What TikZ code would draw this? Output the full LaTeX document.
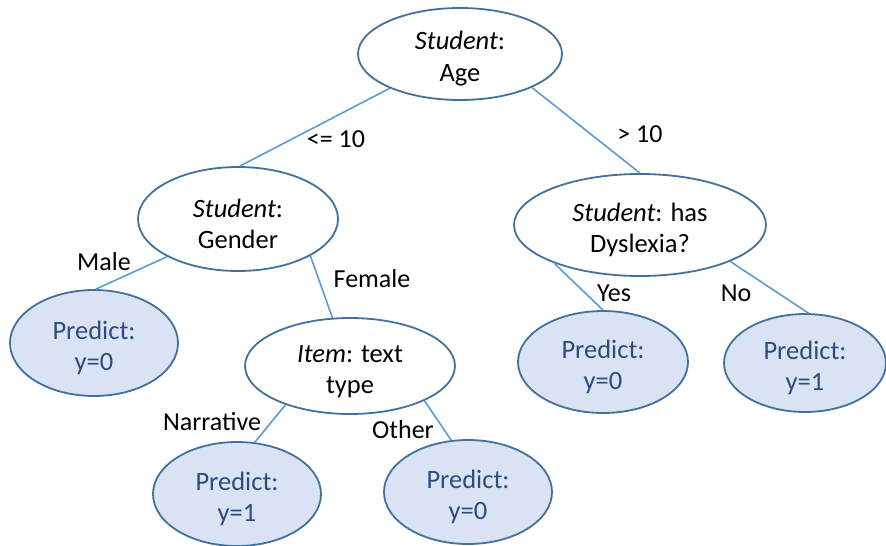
\documentclass[tikz,border=0pt]{standalone}
\usepackage{fontspec}
\setmainfont{Carlito}
\usetikzlibrary{shapes.geometric}
\definecolor{edgeblue}{HTML}{5B9BD5}
\definecolor{borderblue}{HTML}{41719C}
\definecolor{leaffill}{HTML}{DAE3F3}
\definecolor{leaftext}{HTML}{2F4B7C}
\newcommand{\tstrut}{\rule{0pt}{28pt}}
\tikzset{
  tnode/.style={ellipse, draw=borderblue, line width=1.8pt, fill=white, inner sep=0pt,
    align=center, font=\fontsize{26.5}{31.5}\selectfont, text=black},
  leaf/.style={tnode, fill=leaffill, text=leaftext},
  conn/.style={draw=edgeblue, line width=1.6pt},
  lbl/.style={font=\fontsize{26}{30}\selectfont, text=black, inner sep=0pt}
}
\begin{document}
\begin{tikzpicture}[x=1pt,y=-1pt]
\useasboundingbox (0,0) rectangle (886,546);
\node[tnode, minimum width=204, minimum height=92] (age) at (460,54) {\tstrut\textit{Student}:\\Age};
\node[tnode, minimum width=200, minimum height=104] (gender) at (238,219) {\tstrut\textit{Student}:\\Gender};
\node[tnode, minimum width=252, minimum height=102] (dys) at (640,225) {\tstrut\textit{Student}: has\\Dyslexia?};
\node[leaf, minimum width=168, minimum height=106] (pmale) at (94,343) {\tstrut Predict:\\y=0};
\node[tnode, minimum width=210, minimum height=96] (item) at (350,366) {\tstrut\textit{Item}: text\\type};
\node[leaf, minimum width=170, minimum height=102] (pyes) at (603,362) {\tstrut Predict:\\y=0};
\node[leaf, minimum width=162, minimum height=98] (pno) at (805,363) {\tstrut Predict:\\y=1};
\node[leaf, minimum width=168, minimum height=104] (pnarr) at (237,494) {\tstrut Predict:\\y=1};
\node[leaf, minimum width=168, minimum height=104] (pother) at (468,492) {\tstrut Predict:\\y=0};

\draw[conn] (age.206) -- (gender.88);
\draw[conn] (age.335) -- (dys.90);
\draw[conn] (gender.208) -- (pmale.88);
\draw[conn] (gender.333) -- (item.110);
\draw[conn] (dys.204) -- (pyes.90);
\draw[conn] (dys.338) -- (pno.86);
\draw[conn] (item.211) -- (pnarr.71);
\draw[conn] (item.335) -- (pother.108);

\node[lbl] (l1) at (336,139) {<= 10};
\node[lbl] (l2) at (640,134) {> 10};
\node[lbl] (l3) at (104,262) {Male};
\node[lbl] (l4) at (372,279) {Female};
\node[lbl] (l5) at (614,293) {Yes};
\node[lbl] (l6) at (736,293) {No};
\node[lbl] (l7) at (212,422) {Narrative};
\node[lbl] (l8) at (403,430) {Other};
\end{tikzpicture}
\end{document}
